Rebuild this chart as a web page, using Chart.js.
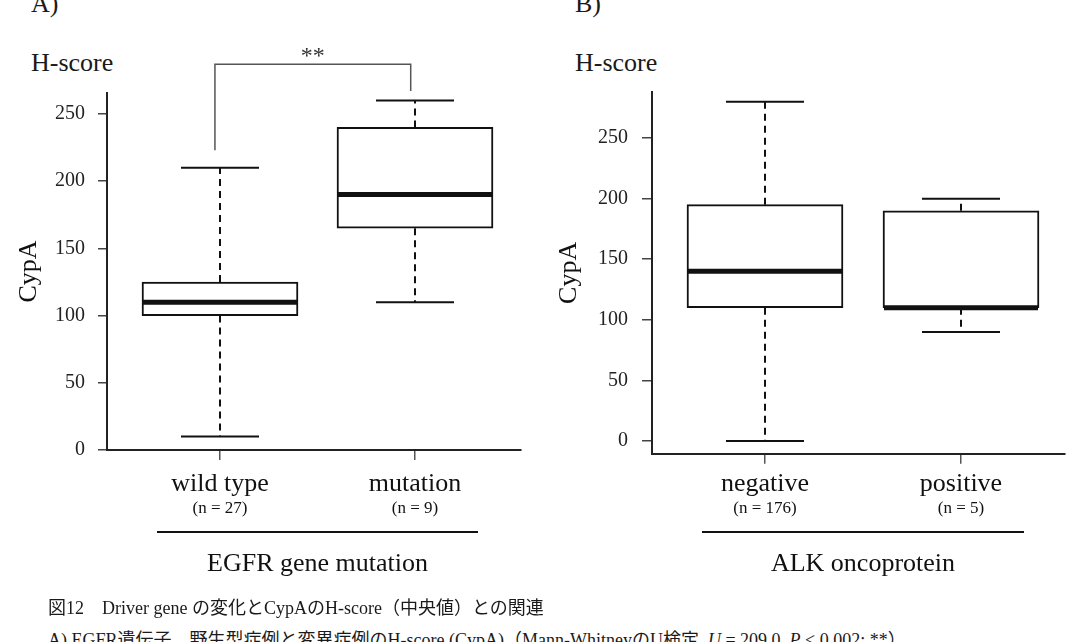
<!DOCTYPE html>
<html>
<head>
<meta charset="utf-8">
<script src="https://cdn.jsdelivr.net/npm/chart.js@4.4.1/dist/chart.umd.min.js"></script>
<style>
  body {
    margin: 0;
    width: 1067px;
    height: 642px;
    overflow: hidden;
    position: relative;
    background: #fff;
    color: #1a1a1a;
    font-family: "Liberation Serif", "Noto Sans CJK JP", serif;
  }
  canvas { position: absolute; top: 0; }
  #chartA { left: 0; }
  #chartB { left: 533px; }
  .lbl { position: absolute; white-space: nowrap; line-height: 1; }
  .panel { font-size: 26px; top: -9px; }
  .hscore { font-size: 26px; top: 50px; }
  .caption { font-size: 18px; left: 48px; line-height: 20px; }
</style>
</head>
<body>
<div class="lbl panel" style="left:31px">A)</div>
<div class="lbl panel" style="left:575px">B)</div>
<div class="lbl hscore" style="left:31px">H-score</div>
<div class="lbl hscore" style="left:575px">H-score</div>

<canvas id="chartA" width="533" height="600"></canvas>
<canvas id="chartB" width="534" height="600"></canvas>

<div class="lbl caption" style="top:598px">図12　Driver gene の変化とCypAのH-score（中央値）との関連</div>
<div class="lbl caption" style="top:630px">A) EGFR遺伝子　野生型症例と変異症例のH-score (CypA)（Mann-WhitneyのU検定, <i>U</i> = 209.0, <i>P</i> &lt; 0.002; **）</div>

<script>
// EGFR gene mutation (panel A)
const egfrGroups = ["wild type", "mutation"];
const egfrN = [27, 9];
const egfrMin = [10, 110];
const egfrQ1 = [100, 165];
const egfrMedian = [110, 190];
const egfrQ3 = [125, 240];
const egfrMax = [210, 260];

// ALK oncoprotein (panel B)
const alkGroups = ["negative", "positive"];
const alkN = [176, 5];
const alkMin = [0, 90];
const alkQ1 = [110, 110];
const alkMedian = [140, 110];
const alkQ3 = [195, 190];
const alkMax = [280, 200];

const yTicks = [0, 50, 100, 150, 200, 250];

const serif = '"Liberation Serif", serif';
const ink = "#111";

// draws whiskers, caps, medians, group labels and the significance bracket
const boxExtras = {
    id: "boxExtras",
    afterDatasetsDraw(chart, args, opts) {
        const ctx = chart.ctx;
        const xs = chart.scales.x;
        const ys = chart.scales.y;
        const bars = chart.getDatasetMeta(0).data;

        ctx.save();
        ctx.strokeStyle = ink;
        ctx.fillStyle = ink;

        bars.forEach((bar, i) => {
            const cx = bar.x;
            const half = bar.width / 2;
            const cap = bar.width / 4;
            const yMin = ys.getPixelForValue(opts.min[i]);
            const yMax = ys.getPixelForValue(opts.max[i]);
            const yQ1 = ys.getPixelForValue(opts.q1[i]);
            const yQ3 = ys.getPixelForValue(opts.q3[i]);
            const yMed = ys.getPixelForValue(opts.median[i]);

            // dashed whiskers
            ctx.lineWidth = 2;
            ctx.setLineDash([7, 5]);
            ctx.beginPath();
            ctx.moveTo(cx, yQ3);
            ctx.lineTo(cx, yMax);
            ctx.moveTo(cx, yQ1);
            ctx.lineTo(cx, yMin);
            ctx.stroke();

            // caps
            ctx.setLineDash([]);
            ctx.beginPath();
            ctx.moveTo(cx - cap, yMax);
            ctx.lineTo(cx + cap, yMax);
            ctx.moveTo(cx - cap, yMin);
            ctx.lineTo(cx + cap, yMin);
            ctx.stroke();

            // median
            ctx.lineWidth = 5;
            ctx.beginPath();
            ctx.moveTo(cx - half + 1, yMed);
            ctx.lineTo(cx + half - 1, yMed);
            ctx.stroke();

            // group names under the axis
            ctx.textAlign = "center";
            ctx.textBaseline = "middle";
            ctx.font = "26px " + serif;
            ctx.fillText(opts.groups[i], cx, 484);
            ctx.font = "17px " + serif;
            ctx.fillText("(n = " + opts.n[i] + ")", cx, 509);
        });

        // rule + factor name
        const first = bars[0].x, last = bars[bars.length - 1].x;
        ctx.lineWidth = 2;
        ctx.beginPath();
        ctx.moveTo(first - 63, 532);
        ctx.lineTo(last + 63, 532);
        ctx.stroke();
        ctx.font = "26px " + serif;
        ctx.fillText(opts.factor, (first + last) / 2, 564);

        // significance bracket
        const b = opts.bracket;
        if (b) {
            const xl = xs.getPixelForValue(b.from);
            const xr = xs.getPixelForValue(b.to);
            const yt = ys.getPixelForValue(b.top);
            ctx.strokeStyle = "#555";
            ctx.lineWidth = 1.5;
            ctx.beginPath();
            ctx.moveTo(xl, ys.getPixelForValue(b.leftEnd));
            ctx.lineTo(xl, yt);
            ctx.lineTo(xr, yt);
            ctx.lineTo(xr, ys.getPixelForValue(b.rightEnd));
            ctx.stroke();
            ctx.fillStyle = "#333";
            ctx.font = "24px " + serif;
            ctx.fillText(b.label, (xl + xr) / 2, yt - 8);
        }
        ctx.restore();
    }
};

function makeBoxChart(id, s) {
    return new Chart(document.getElementById(id), {
        type: "bar",
        data: {
            datasets: [{
                data: s.q1.map((v, i) => ({ x: i + 1, y: [v, s.q3[i]] })),
                backgroundColor: "#fff",
                borderColor: ink,
                borderWidth: 2,
                borderSkipped: false,
                barThickness: 156
            }]
        },
        options: {
            responsive: false,
            animation: false,
            layout: { padding: s.padding },
            plugins: {
                legend: { display: false },
                tooltip: { enabled: false },
                boxExtras: s
            },
            scales: {
                x: {
                    type: "linear",
                    offset: false,
                    min: s.xRange[0],
                    max: s.xRange[1],
                    afterBuildTicks: (scale) => {
                        scale.ticks = s.groups.map((g, i) => ({ value: i + 1 }));
                    },
                    afterFit: (scale) => { scale.height = s.xHeight; },
                    grid: { offset: false, drawOnChartArea: false, drawTicks: true, tickLength: 10, color: "#555", lineWidth: 1.5 },
                    border: { color: "#222", width: 2 },
                    ticks: { callback: () => "" }
                },
                y: {
                    min: s.yRange[0],
                    max: s.yRange[1],
                    afterBuildTicks: (scale) => {
                        scale.ticks = yTicks.map(v => ({ value: v }));
                    },
                    afterFit: (scale) => { scale.width = s.yWidth; },
                    grid: { drawOnChartArea: false, drawTicks: true, tickLength: s.tickLen, color: "#444", lineWidth: 1.5 },
                    border: { color: "#222", width: 2 },
                    ticks: {
                        padding: s.tickPad,
                        color: "#222",
                        font: { family: serif, size: 20 }
                    },
                    title: {
                        display: true,
                        text: "CypA",
                        color: ink,
                        padding: { top: s.titlePad, bottom: 0 },
                        font: { family: serif, size: 26 }
                    }
                }
            }
        },
        plugins: [boxExtras]
    });
}

makeBoxChart("chartA", {
    groups: egfrGroups, n: egfrN, min: egfrMin, q1: egfrQ1,
    median: egfrMedian, q3: egfrQ3, max: egfrMax,
    factor: "EGFR gene mutation",
    bracket: { from: 0.974, to: 1.978, top: 287, leftEnd: 223, rightEnd: 267, label: "**" },
    xRange: [0.4205, 2.5436],
    yRange: [0, 265.6],
    padding: { left: 0, right: 12, top: 93, bottom: 0 },
    xHeight: 150, yWidth: 107, tickLen: 9, tickPad: 13, titlePad: 14
});

makeBoxChart("chartB", {
    groups: alkGroups, n: alkN, min: alkMin, q1: alkQ1,
    median: alkMedian, q3: alkQ3, max: alkMax,
    factor: "ALK oncoprotein",
    bracket: null,
    xRange: [0.4235, 2.5306],
    yRange: [-10.5, 288],
    padding: { left: 0, right: 2, top: 92, bottom: 0 },
    xHeight: 146.3, yWidth: 119, tickLen: 10, tickPad: 14, titlePad: 21
});
</script>
</body>
</html>
